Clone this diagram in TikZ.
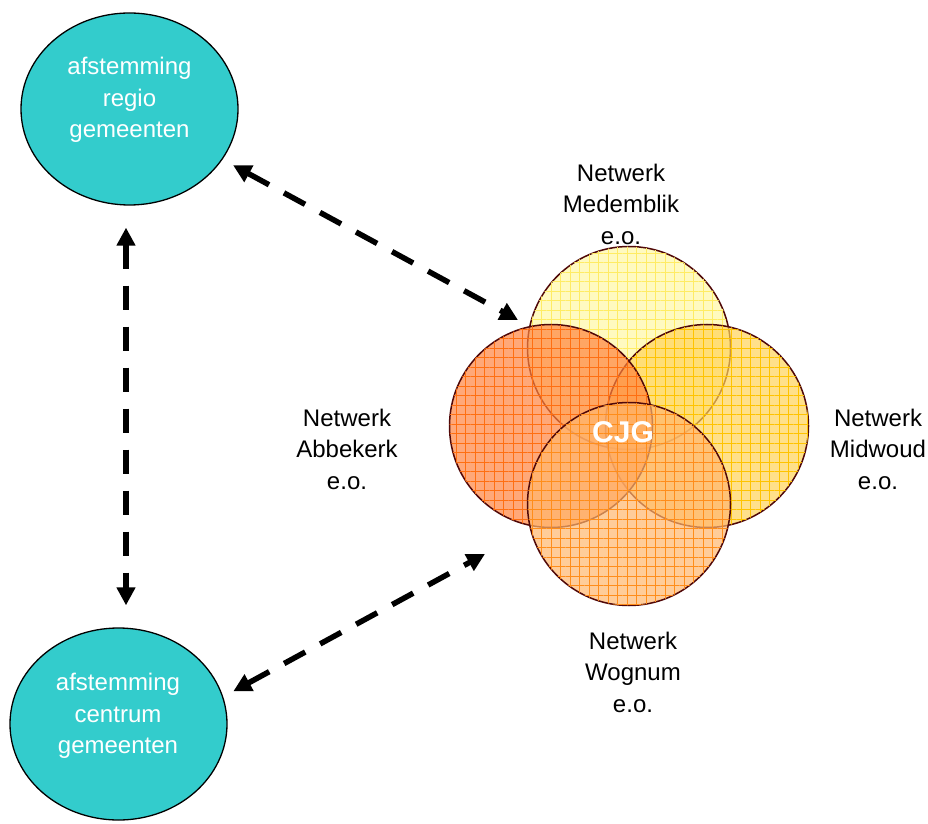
\documentclass[tikz,border=0pt]{standalone}
\usepackage{fontspec}
\setmainfont{Liberation Sans}
\usepackage{xcolor}
\usepackage{tikz}
\usetikzlibrary{shapes.geometric,arrows.meta,positioning,calc,patterns.meta}

\definecolor{teal}{HTML}{33CCCC}
\definecolor{rim}{HTML}{500808}
\definecolor{medc}{HTML}{FFF8A5}
\definecolor{medg}{HTML}{FFEC64}
\definecolor{midc}{HTML}{FFD358}
\definecolor{midg}{HTML}{FFC300}
\definecolor{abbc}{HTML}{FF833E}
\definecolor{abbg}{HTML}{FF6F11}
\definecolor{wogc}{HTML}{FFB66D}
\definecolor{wogg}{HTML}{FF8D1A}

\begin{document}
\begin{tikzpicture}[x=1pt, y=1pt]
        \tikzstyle{bubble} = [ellipse, draw, line width=1.3pt, fill=teal, minimum width=217pt, minimum height=192pt, inner sep=0pt]
        \tikzstyle{bubtext} = [text=white, align=center, font=\fontsize{24}{31.5}\selectfont]
        \tikzstyle{venn} = [circle, draw=rim, line width=1.5pt, minimum size=203pt, inner sep=0pt, fill opacity=0.7]
        \tikzstyle{netlabel} = [align=center, font=\fontsize{24}{31.5}\selectfont]
        \tikzstyle{link} = [draw, line width=5.5pt, dash pattern=on 24pt off 17pt, {Triangle[length=18pt,width=18pt]}-{Triangle[length=18pt,width=18pt]}]
        \tikzset{meshed/.style={postaction={pattern={Hatch[angle=0,distance=9.5pt,line width=0.8pt]}, pattern color=#1}}}

        \useasboundingbox (0,0) rectangle (928,823);

        \node [bubble] (regio) at (129.5,714) {};
        \node [bubtext] (regioText) at (129.5,723) {afstemming\\regio\\gemeenten};
        \node [bubble] (centrum) at (118.5,99) {};
        \node [bubtext] (centrumText) at (118,107) {afstemming\\centrum\\gemeenten};

        % the four networks round the CJG
        \coordinate (hub) at (629,397);
        \node [venn, fill=medc, meshed=medg] (medemblik) at ($(hub)+(0,78)$) {};
        \node [venn, fill=midc, meshed=midg] (midwoud) at ($(hub)+(78,0)$) {};
        \node [venn, fill=abbc, meshed=abbg] (abbekerk) at ($(hub)+(-78,0)$) {};
        \node [venn, fill=wogc, meshed=wogg] (wognum) at ($(hub)+(0,-78)$) {};
        \node [text=white, font=\fontsize{30}{36}\selectfont\bfseries] (cjg) at (623,391) {CJG};

        \node [netlabel] (medLabel) at (621,619) {Netwerk\\Medemblik\\e.o.};
        \node [netlabel] (abbLabel) at (347,374) {Netwerk\\Abbekerk\\e.o.};
        \node [netlabel] (midLabel) at (878,374) {Netwerk\\Midwoud\\e.o.};
        \node [netlabel] (wogLabel) at (633,151) {Netwerk\\Wognum\\e.o.};

        \coordinate (toMed) at (518,503);
        \coordinate (toWog) at (485,269);

        \path [link, shorten <=12pt] (regio) -- (toMed);
        \path [link] ($(regio.south)+(-3.5,-22)$) -- ($(centrum.north)+(7.5,22)$);
        \path [link] ($(centrum.16)+(11,3)$) -- (toWog);
    \end{tikzpicture}
\end{document}
